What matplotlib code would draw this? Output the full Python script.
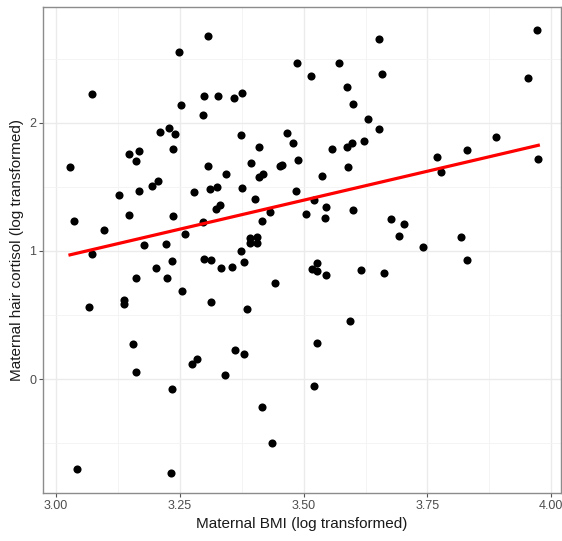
import matplotlib
import matplotlib.pyplot as plt
import numpy as np

matplotlib.use("Agg")

plt.rcParams["font.family"] = ["Liberation Sans", "DejaVu Sans"]

# Maternal BMI (log) and hair cortisol (log)
bmi_log = [
    3.306, 3.248, 3.486, 3.073, 3.299, 3.327, 3.360, 3.376, 3.252, 3.297,
    3.209, 3.227, 3.240, 3.237, 3.373, 3.466, 3.479, 3.489, 3.410, 3.148,
    3.168, 3.162, 3.028, 3.306, 3.394, 3.344, 3.410, 3.418, 3.453, 3.457,
    3.484, 3.193, 3.206, 3.127, 3.167, 3.279, 3.310, 3.324, 3.375, 3.402,
    3.323, 3.332, 3.433, 3.147, 3.237, 3.036, 3.416, 3.296, 3.097, 3.261,
    3.177, 3.221, 3.392, 3.406, 3.392, 3.406, 3.374, 3.379, 3.073, 3.235,
    3.202, 3.162, 3.223, 3.254, 3.066, 3.137, 3.137, 3.299, 3.313, 3.334,
    3.355, 3.312, 3.386, 3.442, 3.156, 3.162, 3.274, 3.284, 3.361, 3.380,
    3.342, 3.235, 3.416, 3.437, 3.043, 3.232,
    3.652, 3.972, 3.571, 3.515, 3.659, 3.953, 3.587, 3.600, 3.630, 3.652,
    3.558, 3.587, 3.597, 3.622, 3.589, 3.537, 3.888, 3.770, 3.830, 3.778,
    3.974, 3.521, 3.505, 3.546, 3.544, 3.599, 3.676, 3.702, 3.692, 3.741,
    3.817, 3.830, 3.526, 3.516, 3.526, 3.546, 3.615, 3.663, 3.594, 3.526,
    3.521,
]
cortisol_log = [
    2.676, 2.551, 2.465, 2.221, 2.206, 2.206, 2.193, 2.234, 2.136, 2.060,
    1.928, 1.959, 1.909, 1.798, 1.904, 1.917, 1.839, 1.707, 1.813, 1.754,
    1.779, 1.701, 1.652, 1.660, 1.686, 1.603, 1.574, 1.603, 1.660, 1.673,
    1.465, 1.507, 1.543, 1.434, 1.470, 1.462, 1.483, 1.496, 1.493, 1.403,
    1.325, 1.361, 1.304, 1.283, 1.273, 1.236, 1.236, 1.226, 1.166, 1.130,
    1.044, 1.052, 1.105, 1.109, 1.066, 1.066, 1.000, 0.912, 0.977, 0.925,
    0.865, 0.790, 0.790, 0.688, 0.566, 0.618, 0.584, 0.938, 0.927, 0.867,
    0.878, 0.600, 0.550, 0.751, 0.273, 0.055, 0.117, 0.158, 0.231, 0.197,
    0.034, -0.073, -0.216, -0.494, -0.699, -0.733,
    2.650, 2.725, 2.465, 2.364, 2.382, 2.346, 2.281, 2.148, 2.026, 1.951,
    1.795, 1.811, 1.844, 1.855, 1.657, 1.585, 1.891, 1.735, 1.787, 1.616,
    1.719, 1.397, 1.286, 1.345, 1.260, 1.322, 1.247, 1.210, 1.115, 1.034,
    1.109, 0.930, 0.904, 0.857, 0.847, 0.815, 0.849, 0.831, 0.454, 0.281,
    -0.055,
]

x_ticks = [3.00, 3.25, 3.50, 3.75, 4.00]
x_tick_labels = ["3.00", "3.25", "3.50", "3.75", "4.00"]
y_ticks = [0, 1, 2]

x = np.array(bmi_log)
y = np.array(cortisol_log)

fig = plt.figure(figsize=(5.62, 5.41), dpi=100)
ax = fig.add_axes([0.077, 0.088, 0.9205, 0.8985])

ax.scatter(x, y, s=34, color="black", linewidths=0, zorder=3)

# linear fit, like geom_smooth(method = "lm", se = FALSE)
slope, intercept = np.polyfit(x, y, 1)
xf = np.linspace(x.min(), x.max(), 50)
ax.plot(xf, intercept + slope * xf, color="#ff0000", lw=2.3, zorder=4)

ax.set_xlim(2.974, 4.019)
ax.set_ylim(-0.889, 2.899)
ax.set_xticks(x_ticks)
ax.set_xticklabels(x_tick_labels)
ax.set_yticks(y_ticks)
ax.set_xticks(np.arange(3.125, 4.0, 0.25), minor=True)
ax.set_yticks([-0.5, 0.5, 1.5, 2.5], minor=True)

ax.grid(True, which="major", color="#ebebeb", lw=1.0, zorder=0)
ax.grid(True, which="minor", color="#f3f3f3", lw=0.6, zorder=0)
ax.set_axisbelow(True)

for sp in ax.spines.values():
    sp.set_color("#8c8c8c")
    sp.set_linewidth(1.0)

ax.tick_params(which="major", length=3, width=0.8, color="#555555",
               labelcolor="#4d4d4d", labelsize=9, pad=2)
ax.tick_params(which="minor", length=0)

ax.set_xlabel("Maternal BMI (log transformed)", fontsize=11, color="#1a1a1a", labelpad=3)
ax.set_ylabel("Maternal hair cortisol (log transformed)", fontsize=11, color="#1a1a1a", labelpad=4)

fig.savefig("out.png", dpi=100)
